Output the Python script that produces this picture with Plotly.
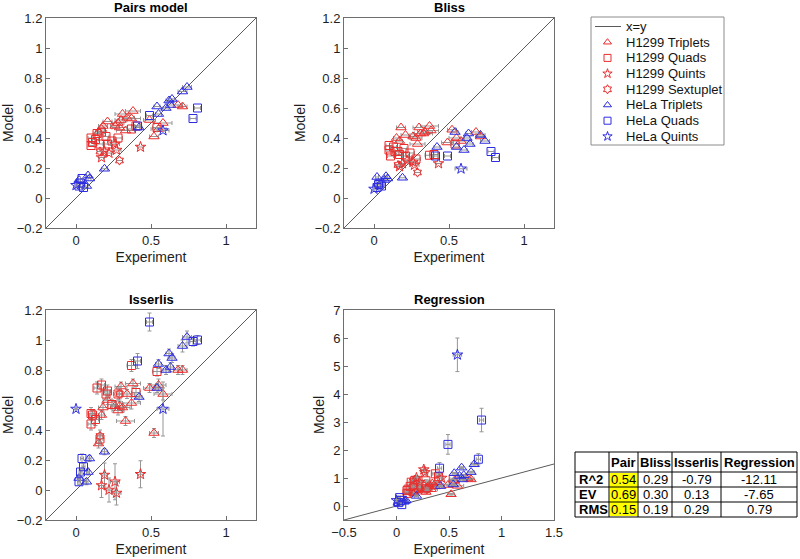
import plotly.graph_objects as go

# ---------------- data ----------------
panel_titles = ["Pairs model", "Bliss", "Isserlis", "Regression"]

# H1299 Triplets
h_tri_x = [0.15, 0.17, 0.18, 0.21, 0.26, 0.28, 0.29, 0.30, 0.31, 0.33, 0.34, 0.37, 0.38, 0.49, 0.52, 0.55, 0.58, 0.68, 0.71]
h_tri_xerr = [0.02, 0.02, 0.03, 0.03, 0.03, 0.04, 0.05, 0.04, 0.05, 0.06, 0.05, 0.06, 0.05, 0.04, 0.03, 0.05, 0.06, 0.03, 0.03]
h_tri_pairs = [0.44, 0.46, 0.48, 0.51, 0.48, 0.50, 0.47, 0.52, 0.56, 0.45, 0.535, 0.53, 0.58, 0.52, 0.41, 0.46, 0.50, 0.62, 0.61]
h_tri_bliss = [0.40, 0.38, 0.47, 0.42, 0.41, 0.40, 0.36, 0.47, 0.43, 0.43, 0.44, 0.48, 0.45, 0.37, 0.455, 0.40, 0.38, 0.44, 0.41]
h_tri_isserlis = [0.31, 0.50, 0.55, 0.60, 0.56, 0.53, 0.56, 0.69, 0.55, 0.46, 0.64, 0.58, 0.71, 0.68, 0.38, 0.70, 0.64, 0.80, 0.80]
h_tri_isserlis_err = [0.03, 0.03, 0.03, 0.03, 0.03, 0.03, 0.03, 0.03, 0.03, 0.03, 0.03, 0.04, 0.03, 0.03, 0.03, 0.04, 0.04, 0.03, 0.03]
h_tri_regr = [0.50, 0.45, 0.55, 0.60, 0.55, 0.50, 0.65, 0.70, 0.75, 0.60, 0.80, 0.70, 0.85, 0.75, 0.42, 0.90, 0.72, 0.98, 0.95]
h_tri_regr_err = [0.03] * 19

# H1299 Quads
h_quad_x = [0.10, 0.10, 0.11, 0.13, 0.14, 0.16, 0.17, 0.20, 0.21, 0.24, 0.28, 0.37, 0.40, 0.54]
h_quad_xerr = [0.02, 0.02, 0.02, 0.02, 0.02, 0.02, 0.02, 0.02, 0.02, 0.03, 0.03, 0.03, 0.03, 0.03]
h_quad_pairs = [0.40, 0.35, 0.37, 0.39, 0.43, 0.36, 0.44, 0.41, 0.36, 0.38, 0.40, 0.46, 0.48, 0.47]
h_quad_bliss = [0.35, 0.32, 0.28, 0.34, 0.31, 0.31, 0.29, 0.33, 0.28, 0.30, 0.26, 0.285, 0.29, 0.36]
h_quad_isserlis = [0.51, 0.44, 0.50, 0.47, 0.68, 0.34, 0.70, 0.64, 0.66, 0.57, 0.64, 0.83, 0.65, 0.79]
h_quad_isserlis_err = [0.04, 0.04, 0.03, 0.04, 0.04, 0.04, 0.04, 0.04, 0.04, 0.03, 0.04, 0.04, 0.04, 0.03]
h_quad_regr = [0.55, 0.45, 0.60, 0.70, 0.85, 0.50, 0.90, 0.75, 0.65, 0.70, 0.90, 1.15, 1.05, 0.95]
h_quad_regr_err = [0.04] * 14

# H1299 Quints
h_quint_x = [0.17, 0.19, 0.22, 0.26, 0.27, 0.43]
h_quint_xerr = [0.02, 0.02, 0.02, 0.03, 0.03, 0.02]
h_quint_pairs = [0.27, 0.31, 0.30, 0.36, 0.32, 0.34]
h_quint_bliss = [0.21, 0.23, 0.25, 0.24, 0.22, 0.23]
h_quint_isserlis = [0.03, 0.10, 0.00, 0.055, -0.02, 0.105]
h_quint_isserlis_err = [0.08, 0.08, 0.08, 0.12, 0.08, 0.09]
h_quint_regr = [0.90, 1.00, 0.85, 1.30, 1.20, 1.00]
h_quint_regr_err = [0.08, 0.08, 0.08, 0.10, 0.08, 0.08]

# H1299 Sextuplet
h_sext_x = [0.16, 0.29]
h_sext_xerr = [0.02, 0.02]
h_sext_pairs = [0.31, 0.25]
h_sext_bliss = [0.22, 0.17]
h_sext_isserlis = [0.36, 0.64]
h_sext_isserlis_err = [0.04, 0.04]
h_sext_regr = [0.70, 0.60]
h_sext_regr_err = [0.05, 0.05]

# HeLa Triplets
c_tri_x = [0.02, 0.07, 0.08, 0.09, 0.19, 0.42, 0.54, 0.55, 0.60, 0.62, 0.63, 0.64, 0.71, 0.74]
c_tri_xerr = [0.01, 0.01, 0.01, 0.01, 0.02, 0.02, 0.02, 0.02, 0.02, 0.02, 0.02, 0.02, 0.03, 0.03]
c_tri_pairs = [0.12, 0.08, 0.15, 0.13, 0.195, 0.47, 0.61, 0.56, 0.60, 0.65, 0.62, 0.66, 0.71, 0.74]
c_tri_bliss = [0.14, 0.12, 0.145, 0.13, 0.135, 0.34, 0.44, 0.34, 0.32, 0.40, 0.43, 0.36, 0.42, 0.38]
c_tri_isserlis = [0.08, 0.055, 0.12, 0.21, 0.255, 0.62, 0.68, 0.84, 0.80, 0.91, 0.82, 0.88, 0.96, 1.02]
c_tri_isserlis_err = [0.02, 0.02, 0.02, 0.02, 0.02, 0.03, 0.03, 0.03, 0.03, 0.03, 0.03, 0.03, 0.04, 0.04]
c_tri_regr = [0.10, 0.15, 0.18, 0.20, 0.36, 0.71, 0.77, 1.17, 1.07, 1.37, 0.95, 1.10, 1.21, 1.49]
c_tri_regr_err = [0.03] * 14

# HeLa Quads
c_quad_x = [0.02, 0.03, 0.04, 0.05, 0.41, 0.49, 0.78, 0.81]
c_quad_xerr = [0.01, 0.01, 0.01, 0.01, 0.02, 0.02, 0.02, 0.02]
c_quad_pairs = [0.08, 0.10, 0.13, 0.07, 0.48, 0.55, 0.53, 0.60]
c_quad_bliss = [0.07, 0.09, 0.10, 0.08, 0.28, 0.28, 0.31, 0.27]
c_quad_isserlis = [0.055, 0.12, 0.21, 0.155, 0.86, 1.12, 0.99, 1.00]
c_quad_isserlis_err = [0.02, 0.02, 0.03, 0.02, 0.05, 0.06, 0.03, 0.03]
c_quad_regr = [0.12, 0.30, 0.20, 0.05, 1.35, 2.20, 1.67, 3.07]
c_quad_regr_err = [0.03, 0.05, 0.05, 0.03, 0.20, 0.35, 0.20, 0.42]

# HeLa Quints
c_quint_x = [0.00, 0.58]
c_quint_xerr = [0.00, 0.04]
c_quint_pairs = [0.085, 0.45]
c_quint_bliss = [0.06, 0.195]
c_quint_isserlis = [0.54, 0.54]
c_quint_isserlis_err = [0.00, 0.18]
c_quint_regr = [0.20, 5.40]
c_quint_regr_err = [0.03, 0.60]

# summary table
table_header = ["", "Pair", "Bliss", "Isserlis", "Regression"]
table_metrics = ["R^2", "EV", "RMS"]
table_pair = ["0.54", "0.69", "0.15"]
table_bliss = ["0.29", "0.30", "0.19"]
table_isserlis = ["-0.79", "0.13", "0.29"]
table_regression = ["-12.11", "-7.65", "0.79"]

# ---------------- styling / layout constants ----------------
RED = "rgb(235,45,45)"
BLUE = "rgb(45,45,225)"
GRAY_ERR = "rgb(150,150,150)"
AXC = "rgb(110,110,110)"
FONT = "Liberation Sans, Arial, sans-serif"
W, H = 800, 559


def px(xp):
    """window pixel x -> paper fraction"""
    return xp / W


def py(yp):
    """window pixel y -> paper fraction"""
    return 1 - yp / H


series = [
    ("H1299 Triplets", "triangle-up-open", RED, 9, h_tri_x, h_tri_xerr,
     [h_tri_pairs, h_tri_bliss, h_tri_isserlis, h_tri_regr], [None, None, h_tri_isserlis_err, h_tri_regr_err]),
    ("H1299 Quads", "square-open", RED, 8, h_quad_x, h_quad_xerr,
     [h_quad_pairs, h_quad_bliss, h_quad_isserlis, h_quad_regr], [None, None, h_quad_isserlis_err, h_quad_regr_err]),
    ("H1299 Quints", "star-open", RED, 8, h_quint_x, h_quint_xerr,
     [h_quint_pairs, h_quint_bliss, h_quint_isserlis, h_quint_regr], [None, None, h_quint_isserlis_err, h_quint_regr_err]),
    ("H1299 Sextuplet", "hexagram-open", RED, 7, h_sext_x, h_sext_xerr,
     [h_sext_pairs, h_sext_bliss, h_sext_isserlis, h_sext_regr], [None, None, h_sext_isserlis_err, h_sext_regr_err]),
    ("HeLa Triplets", "triangle-up-open", BLUE, 9, c_tri_x, c_tri_xerr,
     [c_tri_pairs, c_tri_bliss, c_tri_isserlis, c_tri_regr], [None, None, c_tri_isserlis_err, c_tri_regr_err]),
    ("HeLa Quads", "square-open", BLUE, 8, c_quad_x, c_quad_xerr,
     [c_quad_pairs, c_quad_bliss, c_quad_isserlis, c_quad_regr], [None, None, c_quad_isserlis_err, c_quad_regr_err]),
    ("HeLa Quints", "star-open", BLUE, 8, c_quint_x, c_quint_xerr,
     [c_quint_pairs, c_quint_bliss, c_quint_isserlis, c_quint_regr], [None, None, c_quint_isserlis_err, c_quint_regr_err]),
]

# panel boxes in window pixels: (left, right, top, bottom)
boxes = [(46, 256, 18, 228), (344, 554, 18, 228), (46, 256, 310, 520), (344, 554, 310, 520)]
xranges = [[-0.2, 1.2], [-0.2, 1.2], [-0.2, 1.2], [-0.5, 1.5]]
yranges = [[-0.2, 1.2], [-0.2, 1.2], [-0.2, 1.2], [-0.5, 7]]
xticks = [[0, 0.5, 1], [0, 0.5, 1], [0, 0.5, 1], [-0.5, 0, 0.5, 1, 1.5]]
yticks = [[-0.2, 0, 0.2, 0.4, 0.6, 0.8, 1, 1.2]] * 3 + [[0, 1, 2, 3, 4, 5, 6, 7]]

fig = go.Figure()

for i in range(4):
    xa = "x" if i == 0 else f"x{i+1}"
    ya = "y" if i == 0 else f"y{i+1}"
    lo, hi = xranges[i]
    fig.add_trace(go.Scatter(
        x=[lo, hi], y=[lo, hi], mode="lines", name="x=y",
        line=dict(color="rgb(90,90,90)", width=1),
        xaxis=xa, yaxis=ya, showlegend=False, hoverinfo="skip"))
    for name, sym, col, sz, xs, xerr, ys_list, yerr_list in series:
        yerr = yerr_list[i]
        fig.add_trace(go.Scatter(
            x=xs, y=ys_list[i], mode="markers", name=name,
            marker=dict(symbol=sym, color=col, size=sz, line=dict(width=1, color=col)),
            error_x=dict(type="data", array=xerr, color=GRAY_ERR, thickness=1, width=2),
            error_y=(dict(type="data", array=yerr, color=GRAY_ERR, thickness=1, width=2)
                     if yerr is not None else dict(visible=False)),
            xaxis=xa, yaxis=ya, showlegend=False))

layout = dict(
    width=W, height=H, margin=dict(l=0, r=0, t=0, b=0, autoexpand=False),
    paper_bgcolor="white", plot_bgcolor="white",
    font=dict(family=FONT, size=13, color="rgb(30,30,30)"),
    showlegend=False,
)
annotations = []
shapes = []
for i, (l, r, t, b) in enumerate(boxes):
    key = "" if i == 0 else str(i + 1)
    axis_common = dict(showline=True, mirror=True, linecolor=AXC, linewidth=1,
                       ticks="inside", ticklen=4, tickcolor=AXC, automargin=False,
                       showgrid=False, zeroline=False, tickfont=dict(size=13, family=FONT))
    layout["xaxis" + key] = dict(domain=[px(l), px(r)], range=xranges[i], tickvals=xticks[i],
                                 anchor="y" + key,
                                 title=dict(text="Experiment", font=dict(size=14), standoff=5),
                                 **axis_common)
    layout["yaxis" + key] = dict(domain=[py(b), py(t)], range=yranges[i], tickvals=yticks[i],
                                 anchor="x" + key,
                                 title=dict(text="Model", font=dict(size=14), standoff=5),
                                 **axis_common)
    annotations.append(dict(text="<b>" + panel_titles[i] + "</b>", x=px((l + r) / 2), y=py(t - 1),
                            xref="paper", yref="paper", xanchor="center", yanchor="bottom",
                            showarrow=False, font=dict(size=13, family=FONT, color="black")))

# ---------------- custom legend (own pixel-unit axis) ----------------
LG_L, LG_R, LG_T, LG_B = 591, 724, 17, 145
layout["xaxis5"] = dict(domain=[px(LG_L), px(LG_R)], range=[0, LG_R - LG_L], visible=False,
                        fixedrange=True, automargin=False)
layout["yaxis5"] = dict(domain=[py(LG_B), py(LG_T)], range=[LG_B - LG_T, 0], visible=False,
                        fixedrange=True, automargin=False, anchor="x5")
shapes.append(dict(type="rect", xref="paper", yref="paper", x0=px(LG_L), x1=px(LG_R),
                   y0=py(LG_B), y1=py(LG_T), line=dict(color="rgb(140,140,140)", width=1),
                   fillcolor="rgba(0,0,0,0)"))
row_h, row0, mark_x, line_x0, line_x1, text_x = 15.7, 9.5, 16.5, 4, 30, 33
legend_entries = [("x=y", None, None, None)] + [(s[0], s[1], s[2], s[3]) for s in series]
for k, (name, sym, col, sz) in enumerate(legend_entries):
    yy = row0 + k * row_h
    if sym is None:
        fig.add_trace(go.Scatter(x=[line_x0, line_x1], y=[yy, yy], mode="lines",
                                 line=dict(color="rgb(90,90,90)", width=1),
                                 xaxis="x5", yaxis="y5", showlegend=False, hoverinfo="skip"))
    else:
        fig.add_trace(go.Scatter(x=[mark_x], y=[yy], mode="markers",
                                 marker=dict(symbol=sym, color=col, size=7, line=dict(width=1, color=col)),
                                 xaxis="x5", yaxis="y5", showlegend=False, hoverinfo="skip"))
    annotations.append(dict(text=name, x=text_x, y=yy, xref="x5", yref="y5", xanchor="left",
                            yanchor="middle", showarrow=False,
                            font=dict(size=13, family=FONT, color="rgb(20,20,20)")))

# ---------------- summary table drawn with shapes + annotations ----------------
col_edges = [575, 609, 638, 672, 721, 797]
row_edges = [452, 472, 487, 502, 517]
columns = [table_metrics, table_pair, table_bliss, table_isserlis, table_regression]
# yellow highlight of Pair column
shapes.append(dict(type="rect", xref="paper", yref="paper",
                   x0=px(col_edges[1] + 1), x1=px(col_edges[2] - 1),
                   y0=py(row_edges[-1] - 1), y1=py(row_edges[1] + 1),
                   fillcolor="rgb(255,255,0)", line=dict(width=0), layer="below"))
for xe in col_edges:
    shapes.append(dict(type="line", xref="paper", yref="paper", x0=px(xe), x1=px(xe),
                       y0=py(row_edges[-1]), y1=py(row_edges[0]),
                       line=dict(color="black", width=1)))
for ye in row_edges:
    shapes.append(dict(type="line", xref="paper", yref="paper", x0=px(col_edges[0]), x1=px(col_edges[-1]),
                       y0=py(ye), y1=py(ye), line=dict(color="black", width=1)))
for c, head in enumerate(table_header):
    cx = (col_edges[c] + col_edges[c + 1]) / 2
    cy = (row_edges[0] + row_edges[1]) / 2
    if head:
        annotations.append(dict(text="<b>" + head + "</b>", x=px(cx), y=py(cy), xref="paper", yref="paper",
                                xanchor="center", yanchor="middle", showarrow=False,
                                font=dict(size=13, family=FONT, color="black")))
for c, colvals in enumerate(columns):
    for r, val in enumerate(colvals):
        cy = (row_edges[r + 1] + row_edges[r + 2]) / 2
        if c == 0:
            annotations.append(dict(text="<b>" + val + "</b>", x=px(col_edges[0] + 2), y=py(cy),
                                    xref="paper", yref="paper", xanchor="left", yanchor="middle",
                                    showarrow=False, font=dict(size=13, family=FONT, color="black")))
        else:
            cx = (col_edges[c] + col_edges[c + 1]) / 2
            annotations.append(dict(text=val, x=px(cx), y=py(cy), xref="paper", yref="paper",
                                    xanchor="center", yanchor="middle", showarrow=False,
                                    font=dict(size=13, family=FONT, color="black")))

layout["annotations"] = annotations
layout["shapes"] = shapes
fig.update_layout(**layout)

# remove the default 8px page margin so that the figure fills the window exactly
fig.write_html("out.html", config={"displayModeBar": False},
               post_script="document.body.style.margin='0';document.body.style.overflow='hidden';")
